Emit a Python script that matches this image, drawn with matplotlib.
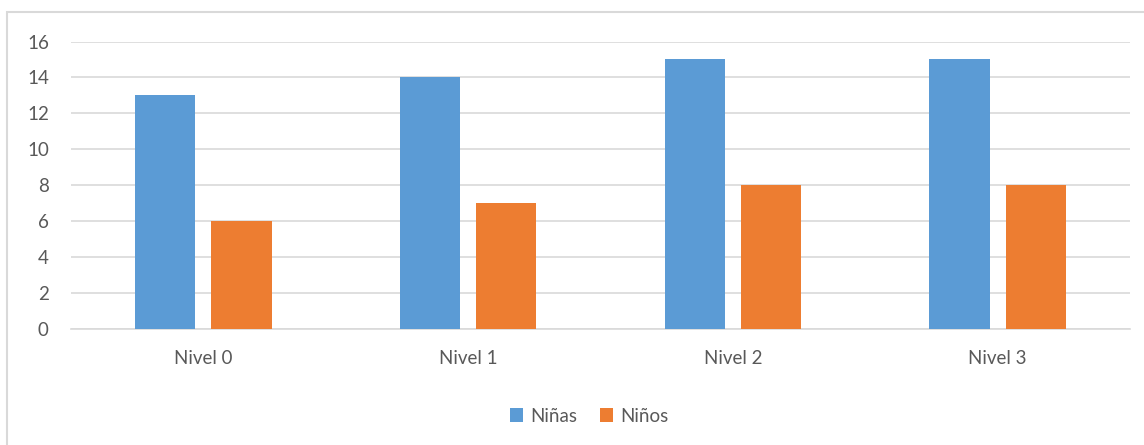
import matplotlib.pyplot as plt
import numpy as np
from matplotlib.patches import Rectangle

# Datos por nivel
niveles = ['Nivel 0', 'Nivel 1', 'Nivel 2', 'Nivel 3']
ninas = [13, 14, 15, 15]
ninos = [6, 7, 8, 8]

azul = '#5B9BD5'
naranja = '#ED7D31'
gris_texto = '#595959'

plt.rcParams['font.family'] = ['Lato', 'DejaVu Sans']

fig = plt.figure(figsize=(11.44, 4.45), dpi=100)
ax = fig.add_axes([0.0621, 0.2607, 0.9257, 0.646])

x = np.arange(len(niveles))
ancho = 0.227
ax.bar(x - 0.144, ninas, width=ancho, color=azul, label='Niñas', zorder=3)
ax.bar(x + 0.144, ninos, width=ancho, color=naranja, label='Niños', zorder=3)

ax.set_xlim(-0.5, len(niveles) - 0.5)
ax.set_ylim(0, 16)
ax.set_yticks(range(0, 17, 2))
ax.set_xticks(x)
ax.set_xticklabels(niveles)

ax.grid(axis='y', color='#D9D9D9', linewidth=1.2, zorder=0)
ax.set_axisbelow(True)
for lado in ['top', 'right', 'left']:
    ax.spines[lado].set_visible(False)
ax.spines['bottom'].set_color('#D9D9D9')
ax.spines['bottom'].set_linewidth(1.2)

ax.tick_params(axis='both', length=0, labelsize=13.5, colors=gris_texto)
ax.tick_params(axis='y', pad=16)
ax.tick_params(axis='x', pad=15)

leg = fig.legend(loc='center', bbox_to_anchor=(0.515, 0.065), ncol=2, frameon=False,
                 fontsize=13.5, handlelength=0.7, handleheight=0.7,
                 handletextpad=0.4, columnspacing=1.2)
for t in leg.get_texts():
    t.set_color(gris_texto)

# Borde del área del gráfico
fig.patches.append(Rectangle((7 / 1144, -0.1), 1.2, 1 - 12 / 445 + 0.1,
                             transform=fig.transFigure, fill=False,
                             edgecolor='#D9D9D9', linewidth=1.5))

plt.savefig('out.png', dpi=100)
